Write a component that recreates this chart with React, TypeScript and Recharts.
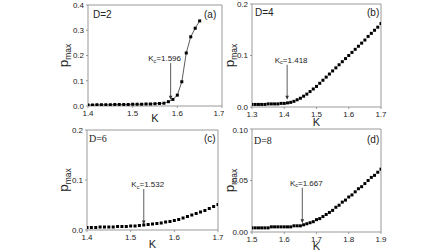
import { ComposedChart, Line, XAxis, YAxis, ReferenceArea, ReferenceLine } from 'recharts';

// panel (a) D=2
const kA = [1.40, 1.41, 1.42, 1.43, 1.44, 1.45, 1.46, 1.47, 1.48, 1.49, 1.50, 1.51, 1.52, 1.53, 1.54, 1.55, 1.56, 1.57, 1.58, 1.59, 1.60, 1.61, 1.62, 1.63, 1.64, 1.65];
const pA = [0.004, 0.004, 0.005, 0.005, 0.005, 0.005, 0.006, 0.006, 0.006, 0.006, 0.007, 0.007, 0.007, 0.008, 0.008, 0.009, 0.010, 0.011, 0.017, 0.026, 0.043, 0.096, 0.21, 0.274, 0.308, 0.337];

// panel (b) D=4
const kB = [1.30, 1.31, 1.32, 1.33, 1.34, 1.35, 1.36, 1.37, 1.38, 1.39, 1.40, 1.41, 1.42, 1.43, 1.44, 1.45, 1.46, 1.47, 1.48, 1.49, 1.50, 1.51, 1.52, 1.53, 1.54, 1.55, 1.56, 1.57, 1.58, 1.59, 1.60, 1.61, 1.62, 1.63, 1.64, 1.65, 1.66, 1.67, 1.68, 1.69, 1.70];
const pB = [0.005, 0.005, 0.005, 0.005, 0.005, 0.006, 0.006, 0.006, 0.006, 0.007, 0.007, 0.008, 0.009, 0.011, 0.014, 0.017, 0.021, 0.025, 0.030, 0.035, 0.040, 0.046, 0.052, 0.058, 0.064, 0.070, 0.076, 0.082, 0.088, 0.094, 0.100, 0.106, 0.112, 0.118, 0.124, 0.130, 0.137, 0.143, 0.149, 0.155, 0.162];

// panel (c) D=6
const kC = [1.40, 1.41, 1.42, 1.43, 1.44, 1.45, 1.46, 1.47, 1.48, 1.49, 1.50, 1.51, 1.52, 1.53, 1.54, 1.55, 1.56, 1.57, 1.58, 1.59, 1.60, 1.61, 1.62, 1.63, 1.64, 1.65, 1.66, 1.67, 1.68, 1.69, 1.70];
const pC = [0.005, 0.005, 0.005, 0.006, 0.006, 0.006, 0.006, 0.007, 0.007, 0.007, 0.008, 0.008, 0.009, 0.010, 0.011, 0.012, 0.013, 0.014, 0.016, 0.017, 0.019, 0.021, 0.024, 0.027, 0.030, 0.033, 0.036, 0.039, 0.043, 0.047, 0.051];

// panel (d) D=8
const kD = [1.50, 1.51, 1.52, 1.53, 1.54, 1.55, 1.56, 1.57, 1.58, 1.59, 1.60, 1.61, 1.62, 1.63, 1.64, 1.65, 1.66, 1.67, 1.68, 1.69, 1.70, 1.71, 1.72, 1.73, 1.74, 1.75, 1.76, 1.77, 1.78, 1.79, 1.80, 1.81, 1.82, 1.83, 1.84, 1.85, 1.86, 1.87, 1.88, 1.89, 1.90];
const pD = [0.004, 0.004, 0.004, 0.004, 0.004, 0.004, 0.005, 0.005, 0.005, 0.005, 0.005, 0.005, 0.005, 0.006, 0.006, 0.006, 0.007, 0.008, 0.009, 0.010, 0.012, 0.013, 0.015, 0.017, 0.019, 0.021, 0.024, 0.026, 0.029, 0.031, 0.034, 0.036, 0.039, 0.042, 0.044, 0.047, 0.050, 0.053, 0.055, 0.058, 0.061];

const xTicksA = [1.4, 1.5, 1.6, 1.7];
const yTicksA = [0, 0.1, 0.2, 0.3, 0.4];
const xTicksB = [1.3, 1.4, 1.5, 1.6, 1.7];
const yTicksB = [0, 0.1, 0.2];
const xTicksC = [1.4, 1.5, 1.6, 1.7];
const yTicksC = [0, 0.1, 0.2];
const xTicksD = [1.5, 1.6, 1.7, 1.8, 1.9];
const yTicksD = [0, 0.05, 0.1];

const FONT = 'Arial, "Liberation Sans", sans-serif';
const SERIF = '"Liberation Serif", "Times New Roman", serif';
const FRAME = '#999';
const INK = '#222';

const SquareDot = (props: any) => {
  const { cx, cy } = props;
  if (cx == null || cy == null) return null;
  return <rect x={cx - 1.5} y={cy - 1.5} width={3} height={3} fill="#000" />;
};

type PanelProps = {
  left: number; top: number; w: number; h: number;
  margin: { top: number; right: number; bottom: number; left: number };
  yWidth: number; xHeight: number;
  k: number[]; p: number[];
  xTicks: number[]; yTicks: number[]; yDigits: number;
  line: boolean;
  kc: number; arrowTop: number; arrowTip: number; kcLabel: string; labelDx: number;
  yLabelX: number; kDy: number;
};

function Panel(props: PanelProps) {
  const { k, p, xTicks, yTicks } = props;
  const data = k.map((kv, i) => ({ k: kv, p: p[i] }));
  const xDom: [number, number] = [xTicks[0], xTicks[xTicks.length - 1]];
  const yDom: [number, number] = [yTicks[0], yTicks[yTicks.length - 1]];
  const tickStyle = { fontSize: 8, fill: INK, fontFamily: FONT };

  const arrowShape = (sp: any) => {
    const { x1, y1, x2, y2 } = sp;
    if (x1 == null) return null;
    return (
      <g>
        <line x1={x1} y1={y1} x2={x2} y2={y2 - 3} stroke="#333" strokeWidth={0.8} />
        <polygon points={`${x2 - 1.8},${y2 - 4} ${x2 + 1.8},${y2 - 4} ${x2},${y2}`} fill="#333" />
        <text x={x1 + props.labelDx} y={y1 - 2} textAnchor="middle" fontSize={8} fill={INK} fontFamily={FONT}>
          K<tspan fontSize={5.5} dy={1.5}>c</tspan><tspan dy={-1.5}>={props.kcLabel}</tspan>
        </text>
      </g>
    );
  };

  return (
    <div style={{ position: 'absolute', left: props.left, top: props.top }}>
      <ComposedChart width={props.w} height={props.h} data={data} margin={props.margin}>
        <XAxis
          type="number"
          dataKey="k"
          domain={xDom}
          ticks={xTicks}
          allowDataOverflow
          height={props.xHeight}
          axisLine={false}
          tickLine={{ stroke: FRAME }}
          tickSize={2}
          tickMargin={2.5}
          tick={tickStyle}
          tickFormatter={(v: number) => v.toFixed(1)}
          label={{
            content: ({ viewBox }: any) => (
              <text x={viewBox.x + viewBox.width / 2} y={viewBox.y + props.kDy} textAnchor="middle" fontSize={11} fill={INK} fontFamily={FONT}>K</text>
            ),
          }}
        />
        <YAxis
          type="number"
          domain={yDom}
          ticks={yTicks}
          allowDataOverflow
          width={props.yWidth}
          axisLine={false}
          tickLine={{ stroke: FRAME }}
          tickSize={2}
          tickMargin={2}
          tick={tickStyle}
          tickFormatter={(v: number) => v.toFixed(props.yDigits)}
          label={{
            content: ({ viewBox }: any) => {
              const cy = viewBox.y + viewBox.height / 2;
              const x = props.yLabelX;
              return (
                <text x={x} y={cy} transform={`rotate(-90, ${x}, ${cy})`} textAnchor="middle" fill={INK} fontFamily={FONT} fontSize={13.5}>
                  p<tspan fontSize={8.5} dy={3}>max</tspan>
                </text>
              );
            },
          }}
        />
        <ReferenceArea x1={xDom[0]} x2={xDom[1]} y1={yDom[0]} y2={yDom[1]} fill="none" stroke={FRAME} strokeWidth={1} />
        <ReferenceLine
          segment={[{ x: props.kc, y: props.arrowTop }, { x: props.kc, y: props.arrowTip }]}
          shape={arrowShape}
        />
        <Line
          type="linear"
          dataKey="p"
          stroke={props.line ? '#333' : 'none'}
          strokeWidth={0.8}
          dot={<SquareDot />}
          activeDot={false}
          isAnimationActive={false}
        />
      </ComposedChart>
    </div>
  );
}

const tagStyle = (extra: any) => ({ position: 'absolute' as const, fontSize: 10, color: INK, fontFamily: FONT, lineHeight: '10px', ...extra });

export default function App() {
  return (
    <div style={{ position: 'absolute', left: 0, top: 0, width: 448, height: 252, background: '#fff', overflow: 'hidden' }}>
      <Panel left={0} top={0} w={224} h={126} margin={{ top: 5, right: 2, bottom: 0, left: 0 }} yWidth={88} xHeight={20}
        k={kA} p={pA} xTicks={xTicksA} yTicks={yTicksA} yDigits={1} line
        kc={1.585} arrowTop={0.17} arrowTip={0.025} kcLabel="1.596" labelDx={-6} yLabelX={68} kDy={16} />
      <Panel left={214} top={0} w={234} h={130} margin={{ top: 4, right: 67, bottom: 4, left: 0 }} yWidth={38} xHeight={19}
        k={kB} p={pB} xTicks={xTicksB} yTicks={yTicksB} yDigits={1} line={false}
        kc={1.409} arrowTop={0.082} arrowTip={0.014} kcLabel="1.418" labelDx={4} yLabelX={20} kDy={19} />
      <Panel left={0} top={126} w={224} h={126} margin={{ top: 4, right: 6, bottom: 0, left: 0 }} yWidth={87} xHeight={22}
        k={kC} p={pC} xTicks={xTicksC} yTicks={yTicksC} yDigits={1} line={false}
        kc={1.530} arrowTop={0.082} arrowTip={0.011} kcLabel="1.532" labelDx={4} yLabelX={68} kDy={18} />
      <Panel left={214} top={126} w={234} h={126} margin={{ top: 3, right: 67, bottom: 0, left: 0 }} yWidth={38} xHeight={20}
        k={kD} p={pD} xTicks={xTicksD} yTicks={yTicksD} yDigits={2} line={false}
        kc={1.656} arrowTop={0.043} arrowTip={0.0085} kcLabel="1.667" labelDx={4} yLabelX={20} kDy={18} />

      <div style={tagStyle({ left: 93, top: 10 })}>D=2</div>
      <div style={tagStyle({ left: 204, top: 10 })}>(a)</div>
      <div style={tagStyle({ left: 255, top: 8 })}>D=4</div>
      <div style={tagStyle({ left: 367, top: 8 })}>(b)</div>
      <div style={tagStyle({ left: 89, top: 134, fontFamily: SERIF })}>D=6</div>
      <div style={tagStyle({ left: 204, top: 134 })}>(c)</div>
      <div style={tagStyle({ left: 254, top: 136, fontFamily: SERIF })}>D=8</div>
      <div style={tagStyle({ left: 367, top: 135 })}>(d)</div>
    </div>
  );
}
